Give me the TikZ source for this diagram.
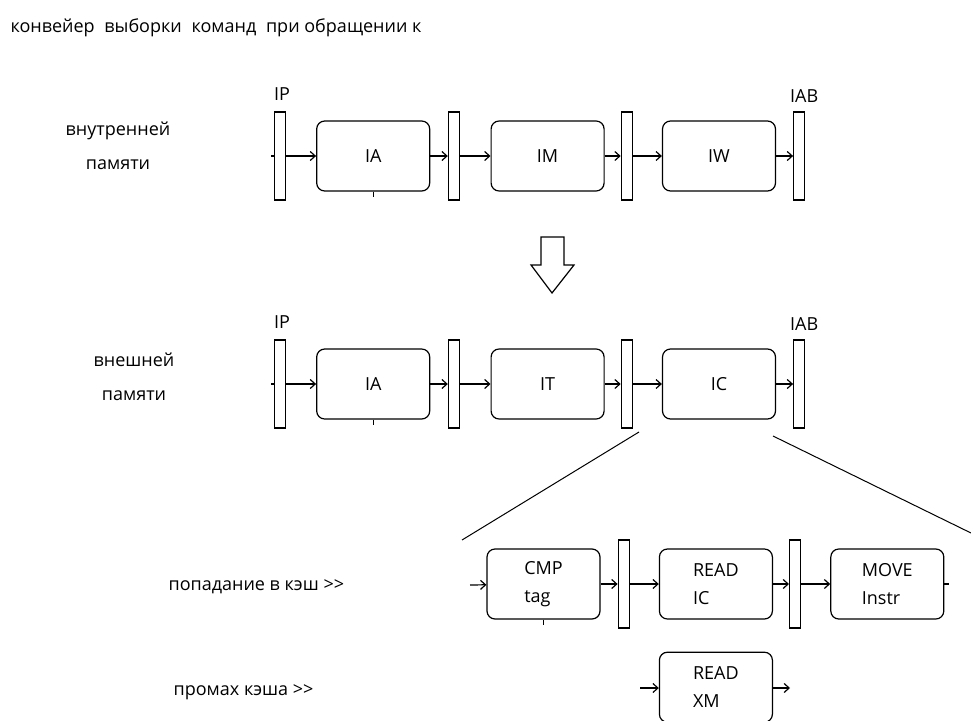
\documentclass[tikz,border=0pt]{standalone}
\usepackage{fontspec}
\setmainfont{Open Sans}
\usetikzlibrary{positioning,arrows.meta}
\newcommand{\cvfont}{\fontsize{18}{28}\selectfont}

\begin{document}
\begin{tikzpicture}[
                x=1pt, y=-1pt,
                font=\cvfont,
                line width=1.2pt,
                stage/.style={rectangle, draw, rounded corners=8pt, minimum width=113pt, minimum height=70pt, inner sep=0pt, align=left},
                latch/.style={rectangle, draw, fill=white, minimum width=11pt, minimum height=88pt, inner sep=0pt},
                lbl/.style={inner sep=0pt},
                arrow/.style={->, >={Straight Barb[length=5pt,width=9pt]}}
            ]
                \useasboundingbox (0,0) rectangle (971,720);
                \node[lbl, anchor=base west] (title) at (10,32) {конвейер\hspace{5pt} выборки\hspace{5pt} команд\hspace{5pt} при обращении к};

                % внутренняя память
                \node[lbl, align=center, font=\fontsize{18}{34}\selectfont] (innerLbl) at (118,146) {внутренней\\памяти};
                \node[latch] (ipA) at (280,156) {};
                \node[stage, right=30pt of ipA] (iaA) {IA};
                \node[latch, right=17.5pt of iaA] (rA1) {};
                \node[stage, right=30.5pt of rA1] (imA) {IM};
                \node[latch, right=16pt of imA] (rA2) {};
                \node[stage, right=29pt of rA2] (iwA) {IW};
                \node[latch, right=17pt of iwA] (iabA) {};
                \node[lbl, above=10pt of ipA, xshift=2pt] (ipAl) {IP};
                \node[lbl, above=8pt of iabA, xshift=5pt] (iabAl) {IAB};

                \draw (ipA.west) -- ++(-3,0);
                \draw[arrow] (ipA) -- (iaA);
                \draw[arrow] (iaA) -- (rA1);
                \draw[arrow] (rA1) -- (imA);
                \draw[arrow] (imA) -- (rA2);
                \draw[arrow] (rA2) -- (iwA);
                \draw[arrow] (iwA) -- (iabA);
                \draw (iaA.south) -- ++(0,5);

                % переход
                \draw (541,237) -- (564,237) -- (564,265) -- (574,265) -- (552,293) -- (531,265) -- (541,265) -- cycle;

                % внешняя память
                \node[lbl, align=center, font=\fontsize{18}{34}\selectfont] (outerLbl) at (134,377) {внешней\\памяти};
                \node[latch] (ipB) at (280,384) {};
                \node[stage, right=30pt of ipB] (iaB) {IA};
                \node[latch, right=17.5pt of iaB] (rB1) {};
                \node[stage, right=30.5pt of rB1] (itB) {IT};
                \node[latch, right=16pt of itB] (rB2) {};
                \node[stage, right=29pt of rB2] (icB) {IC};
                \node[latch, right=17pt of icB] (iabB) {};
                \node[lbl, above=10pt of ipB, xshift=2pt] (ipBl) {IP};
                \node[lbl, above=8pt of iabB, xshift=5pt] (iabBl) {IAB};

                \draw (ipB.west) -- ++(-3,0);
                \draw[arrow] (ipB) -- (iaB);
                \draw[arrow] (iaB) -- (rB1);
                \draw[arrow] (rB1) -- (itB);
                \draw[arrow] (itB) -- (rB2);
                \draw[arrow] (rB2) -- (icB);
                \draw[arrow] (icB) -- (iabB);
                \draw (iaB.south) -- ++(0,5);

                % раскрытие IC
                \coordinate (zoomL1) at (639,432);
                \coordinate (zoomL2) at (462,540);
                \coordinate (zoomR1) at (773,436);
                \coordinate (zoomR2) at (971,533);
                \draw[line width=1pt] (zoomL1) -- (zoomL2);
                \draw[line width=1pt] (zoomR1) -- (zoomR2);

                % попадание
                \node[lbl, anchor=base west] (hitLbl) at (168,590) {попадание в кэш {>}{>}};
                \node[stage] (cmp) at (543.5,584) {CMP\\tag};
                \node[latch, right=17pt of cmp] (rC1) {};
                \node[stage, right=29pt of rC1] (rdic) {READ\\IC};
                \node[latch, right=16pt of rdic] (rC2) {};
                \node[stage, right=29pt of rC2] (mov) {MOVE\\Instr};
                \coordinate (hitIn) at (470,585);

                \draw[arrow] (hitIn) -- (cmp);
                \draw[arrow] (cmp) -- (rC1);
                \draw[arrow] (rC1) -- (rdic);
                \draw[arrow] (rdic) -- (rC2);
                \draw[arrow] (rC2) -- (mov);
                \draw (mov.east) -- ++(5,0);
                \draw (cmp.south) -- ++(0,5);

                % промах
                \node[lbl, anchor=base west] (missLbl) at (173,695) {промах кэша {>}{>}};
                \node[stage, below=32pt of rdic] (rdxm) {READ\\XM};
                \coordinate (missIn) at (640,688);
                \coordinate (missOut) at (790,688);
                \draw[arrow] (missIn) -- (missIn -| rdxm.west);
                \draw[arrow] (missOut -| rdxm.east) -- (missOut);
            \end{tikzpicture}
\end{document}
